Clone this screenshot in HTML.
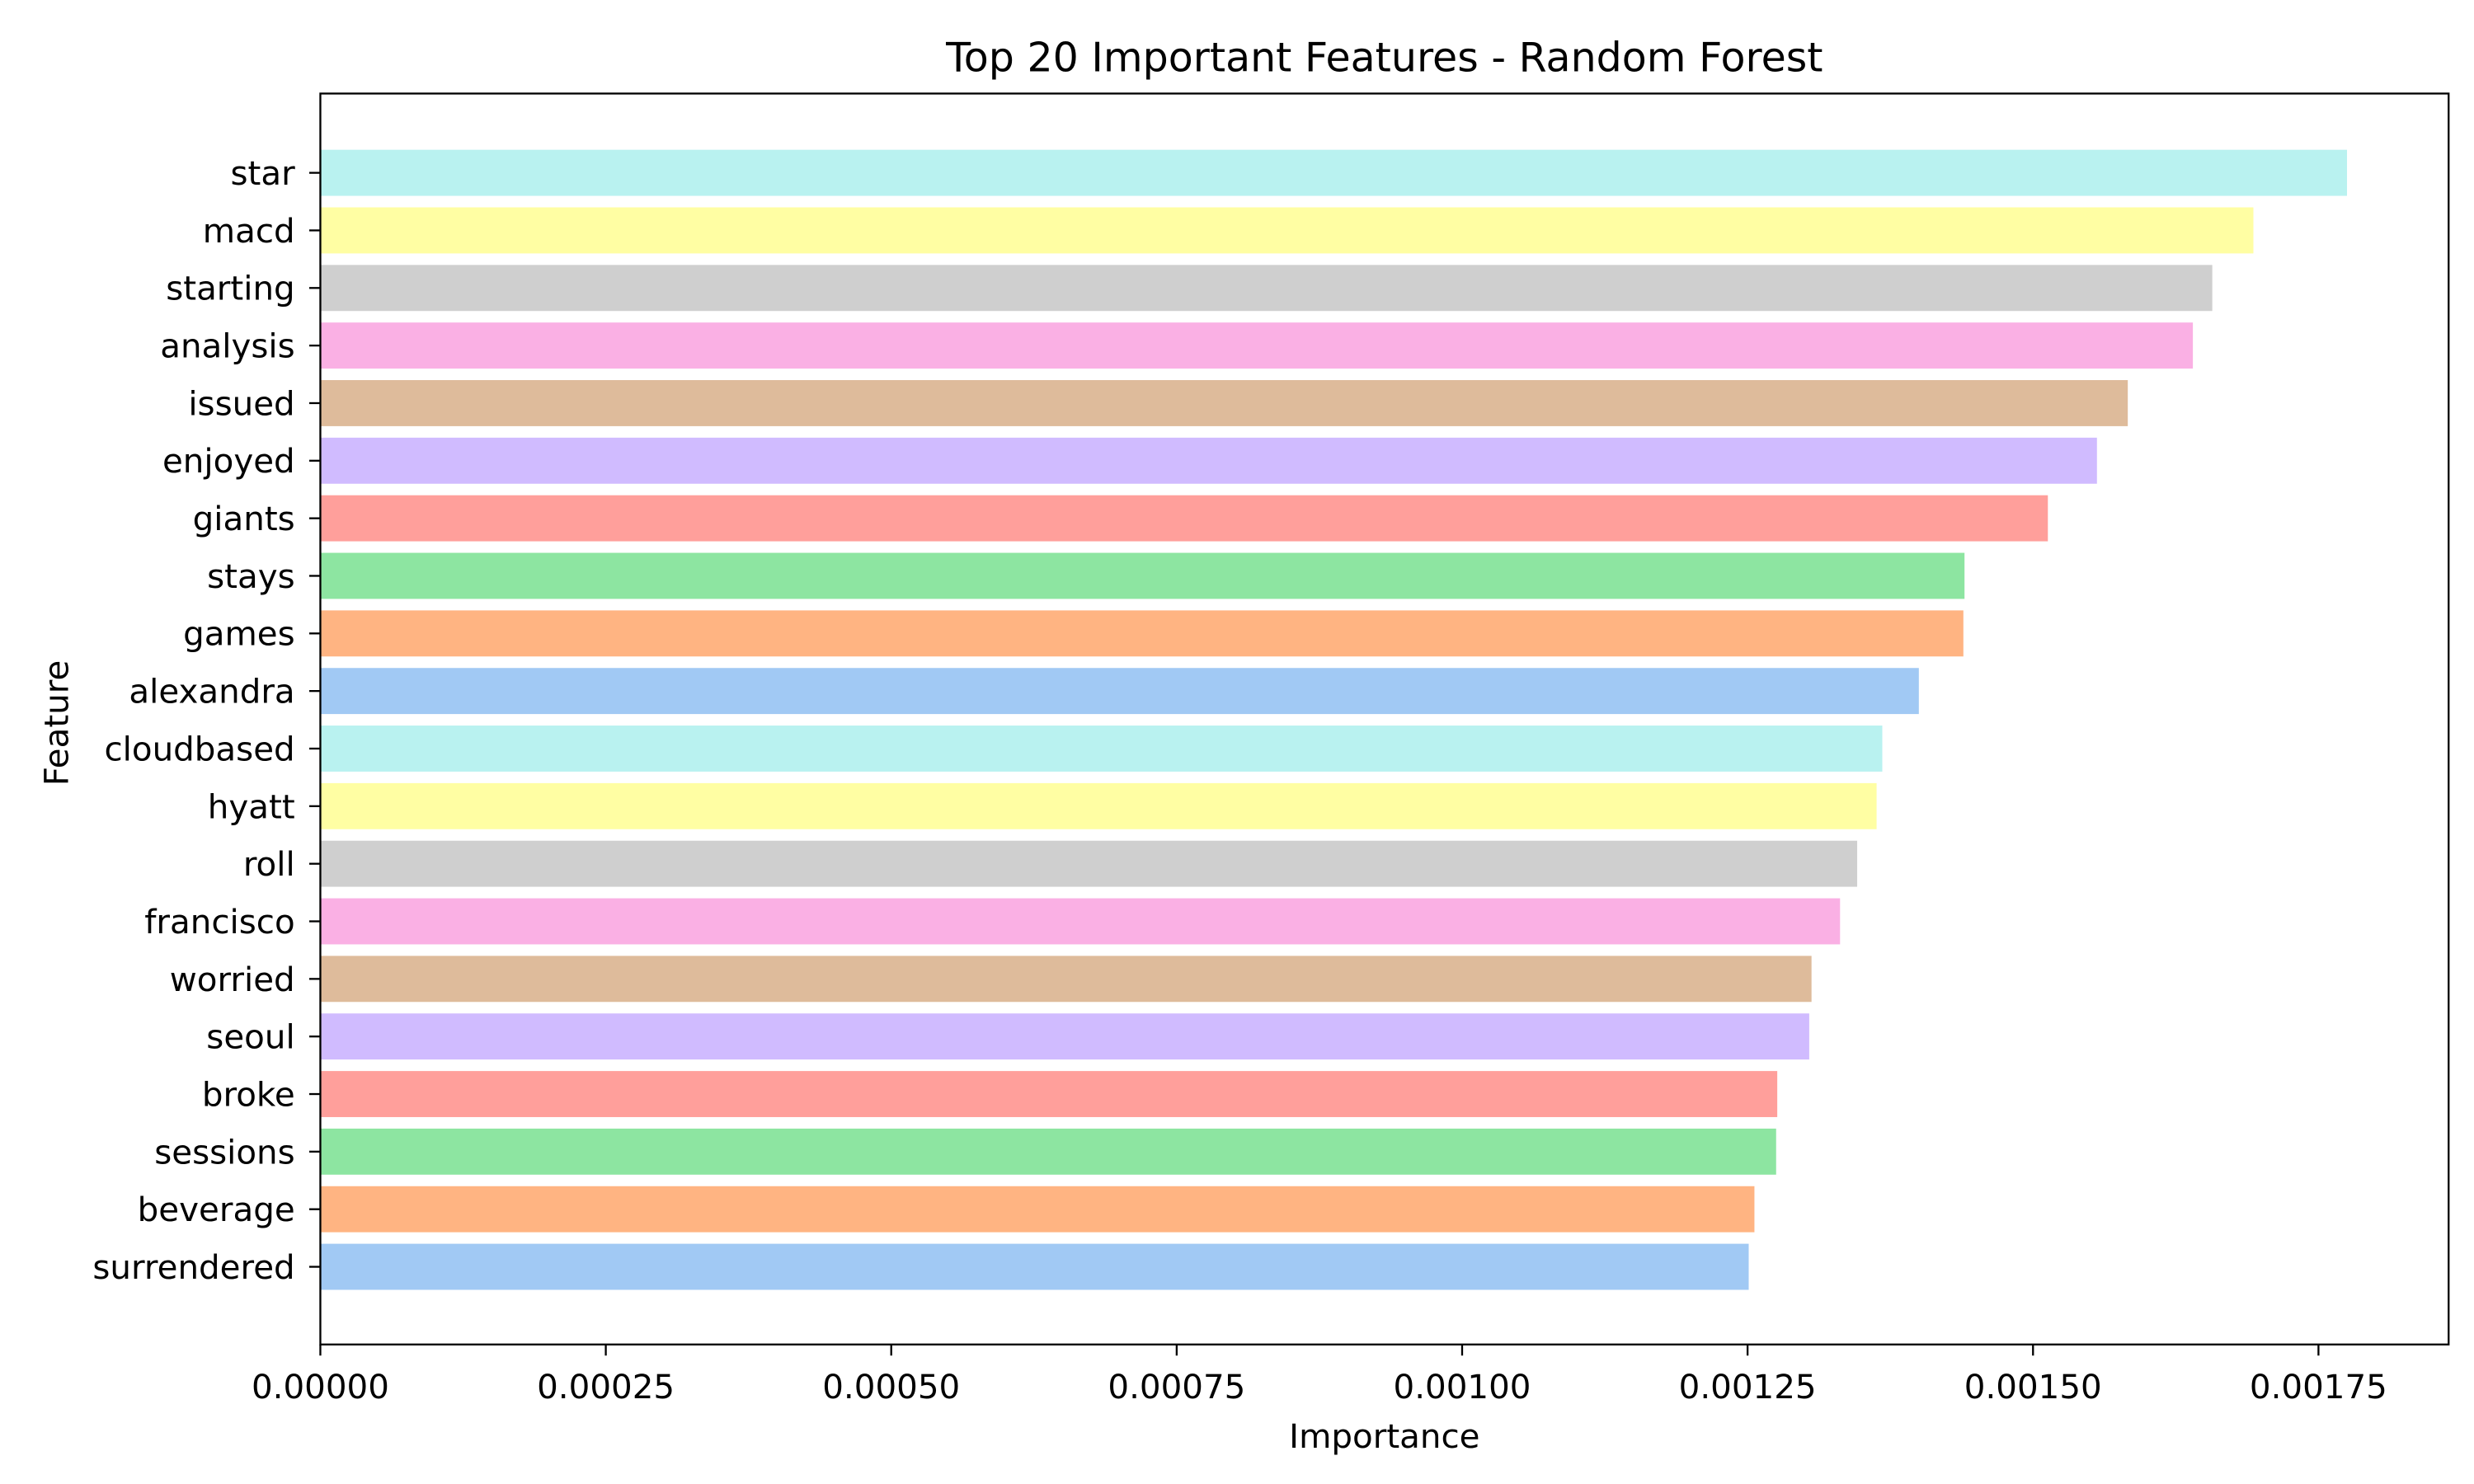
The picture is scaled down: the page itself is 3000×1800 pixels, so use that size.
<!DOCTYPE html>
<html><head><meta charset="utf-8"><style>
html,body{margin:0;padding:0;background:#fff;}
svg{display:block;font-family:"DejaVu Sans","Liberation Sans",sans-serif;}
</style></head><body>
<svg id="chart" width="3000" height="1800" viewBox="0 0 1560 936" preserveAspectRatio="none" xmlns="http://www.w3.org/2000/svg">
<rect width="1560" height="936" fill="#fff"/>
<text x="873" y="45" font-size="25.5" text-anchor="middle">Top 20 Important Features - Random Forest</text>
<g id="bars"></g>
<g id="yticks"></g>
<g id="xticks"></g>
<rect x="202" y="59" width="1342" height="789" fill="none" stroke="#000" stroke-width="1.2"/>
<text x="873" y="913" font-size="21" text-anchor="middle">Importance</text>
<text transform="translate(43,456) rotate(-90)" font-size="21" text-anchor="middle">Feature</text>
</svg>
<script>
const features = ["star","macd","starting","analysis","issued","enjoyed","giants","stays","games","alexandra","cloudbased","hyatt","roll","francisco","worried","seoul","broke","sessions","beverage","surrendered"];
const importances = [0.001775,0.001693,0.001657,0.001640,0.001583,0.001556,0.001513,0.001440,0.001439,0.001400,0.001368,0.001363,0.001346,0.001331,0.001306,0.001304,0.001276,0.001275,0.001256,0.001251];
const barColors = ["#b9f2f0","#fffea3","#cfcfcf","#fab0e4","#debb9b","#d0bbff","#ff9f9b","#8de5a1","#ffb482","#a1c9f4"];
const xTickValues = [0,0.00025,0.0005,0.00075,0.001,0.00125,0.0015,0.00175];
const xTickLabels = ["0.00000","0.00025","0.00050","0.00075","0.00100","0.00125","0.00150","0.00175"];
const NS="http://www.w3.org/2000/svg";
const L=202,R=1544,T=59,B=848;
const xmax=0.0018640;
function xs(v){return L+v/xmax*(R-L);}
const n=features.length;
const y0=109, step=(799-109)/(n-1);
function ys(i){return y0+i*step;}
const bh=step*0.8;
const gb=document.getElementById('bars'),gy=document.getElementById('yticks'),gx=document.getElementById('xticks');
features.forEach((f,i)=>{
  const r=document.createElementNS(NS,'rect');
  
  
  r.setAttribute('x',xs(0));r.setAttribute('y',ys(i)-bh/2);
  r.setAttribute('width',xs(importances[i])-xs(0));r.setAttribute('height',bh);
  r.setAttribute('fill',barColors[i%10]);
  gb.appendChild(r);
  const t=document.createElementNS(NS,'line');
  
  
  t.setAttribute('x1',L-7);t.setAttribute('x2',L);t.setAttribute('y1',ys(i));t.setAttribute('y2',ys(i));
  t.setAttribute('stroke','#000');t.setAttribute('stroke-width','1.2');
  gy.appendChild(t);
  const tx=document.createElementNS(NS,'text');
  
  
  tx.setAttribute('x',L-16);tx.setAttribute('y',ys(i)+7.5);
  tx.setAttribute('font-size','21');tx.setAttribute('text-anchor','end');
  tx.textContent=f;gy.appendChild(tx);
});
xTickValues.forEach((v,i)=>{
  const t=document.createElementNS(NS,'line');
  
  
  t.setAttribute('x1',xs(v));t.setAttribute('x2',xs(v));t.setAttribute('y1',B);t.setAttribute('y2',B+7);
  t.setAttribute('stroke','#000');t.setAttribute('stroke-width','1.2');gx.appendChild(t);
  const tx=document.createElementNS(NS,'text');
  
  
  tx.setAttribute('x',xs(v));tx.setAttribute('y',882);
  tx.setAttribute('font-size','21');tx.setAttribute('text-anchor','middle');
  tx.textContent=xTickLabels[i];gx.appendChild(tx);
});
</script>
</body></html>
